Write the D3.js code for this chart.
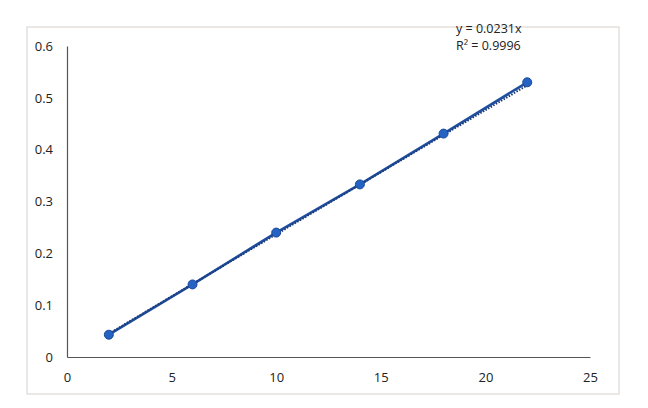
<!DOCTYPE html>
<html>
<head>
<meta charset="utf-8">
<script src="https://cdn.jsdelivr.net/npm/d3@7"></script>
<style>
  html,body{margin:0;padding:0;background:#fff;}
  svg{display:block;font-family:"Open Sans","Liberation Sans",sans-serif;}
</style>
</head>
<body>
<svg id="chart" width="648" height="408"></svg>
<script>
const concentration=[2,6,10,14,18,22];
const absorbance=[0.043,0.140,0.240,0.333,0.431,0.530];
const xTicks=[0,5,10,15,20,25];
const yTicks=[0,0.1,0.2,0.3,0.4,0.5,0.6];
const equationLines=["y = 0.0231x","R\u00b2 = 0.9996"];

const svg=d3.select("#chart");
const w=648,h=408,m={top:46,right:58,bottom:51,left:67};

// chart area frame
svg.append("rect")
  .attr("x",27).attr("y",27)
  .attr("width",592).attr("height",367)
  .attr("fill","#fff")
  .attr("stroke","#d6d0cc")
  .attr("stroke-width",1);

const x=d3.scaleLinear().domain([0,25]).range([m.left,w-m.right]);
const y=d3.scaleLinear().domain([0,0.6]).range([h-m.bottom,m.top]);

// axes
const xAxis=svg.append("g")
  .attr("transform",`translate(0,${h-m.bottom})`)
  .call(d3.axisBottom(x).tickValues(xTicks).tickSize(0).tickPadding(16).tickFormat(d3.format("d")));
const yAxis=svg.append("g")
  .attr("transform",`translate(${m.left},0)`)
  .call(d3.axisLeft(y).tickValues(yTicks).tickSize(0).tickPadding(14).tickFormat(d=>d===0?"0":d3.format(".1f")(d)));
[xAxis,yAxis].forEach(g=>{
  g.select(".domain").attr("stroke","#555").attr("stroke-width",1.2);
  g.selectAll("text").attr("font-size","13px").attr("fill","#222")
    .attr("font-family","'Open Sans','Liberation Sans',sans-serif");
});

const data=concentration.map((c,i)=>({x:c,y:absorbance[i]}));

// least squares fit through origin
const slope=d3.sum(data,d=>d.x*d.y)/d3.sum(data,d=>d.x*d.x);
const xExt=d3.extent(concentration);

svg.append("path")
  .datum(data)
  .attr("fill","none")
  .attr("stroke","#1f4f9e")
  .attr("stroke-width",2.6)
  .attr("d",d3.line().x(d=>x(d.x)).y(d=>y(d.y)));

svg.append("line")
  .attr("x1",x(xExt[0])).attr("y1",y(slope*xExt[0]))
  .attr("x2",x(xExt[1])).attr("y2",y(slope*xExt[1]))
  .attr("stroke","#1b3a78")
  .attr("stroke-width",2)
  .attr("stroke-dasharray","1.5,1.5")
  .attr("transform","translate(0,1.5)");

svg.selectAll(".pt")
  .data(data)
  .join("circle")
  .attr("class","pt")
  .attr("cx",d=>x(d.x))
  .attr("cy",d=>y(d.y))
  .attr("r",4.5)
  .attr("fill","#2462c4")
  .attr("stroke","#1a4a9a")
  .attr("stroke-width",1);

svg.append("g").selectAll("text")
  .data(equationLines)
  .join("text")
  .attr("x",456)
  .attr("y",(d,i)=>33+i*17)
  .attr("font-size","12.5px")
  .attr("fill","#222")
  .text(d=>d);
</script>
</body>
</html>
